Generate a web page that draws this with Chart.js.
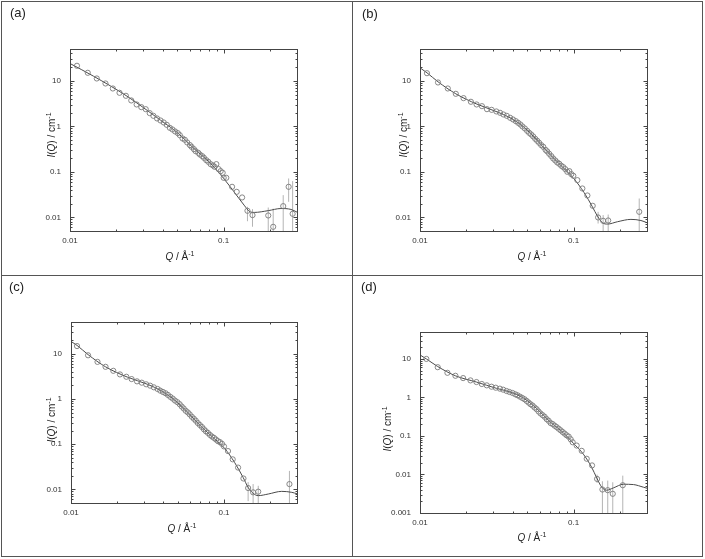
<!DOCTYPE html>
<html>
<head>
<meta charset="utf-8">
<script src="https://cdn.jsdelivr.net/npm/chart.js@4.4.1/dist/chart.umd.min.js"></script>
<style>
  html,body{margin:0;padding:0;background:#fff;}
  #wrap{position:relative;width:705px;height:559px;background:#fff;overflow:hidden;font-family:"Liberation Sans",Arial,sans-serif;}
  canvas{position:absolute;}
  .ln{position:absolute;background:#555;}
  .plab{position:absolute;font-size:13px;color:#222;line-height:13px;transform:translateY(-50%);}
  .xt,.yt{position:absolute;font-size:10px;color:#222;white-space:nowrap;line-height:10px;}
  .xt{transform:translate(-50%,-50%);}
  .yt{transform:translate(-50%,-50%) rotate(-90deg);}
  .sp{font-size:7px;position:relative;top:-4px;}
</style>
</head>
<body>
<div id="wrap">
  <canvas id="ca" width="352" height="275" style="left:0;top:0"></canvas>
  <canvas id="cb" width="353" height="275" style="left:352px;top:0"></canvas>
  <canvas id="cc" width="352" height="284" style="left:0;top:275px"></canvas>
  <canvas id="cd" width="353" height="284" style="left:352px;top:275px"></canvas>

  <div class="ln" style="left:1px;top:1px;width:702px;height:1px"></div>
  <div class="ln" style="left:1px;top:556px;width:702px;height:1px"></div>
  <div class="ln" style="left:1px;top:1px;width:1px;height:556px"></div>
  <div class="ln" style="left:702px;top:1px;width:1px;height:556px"></div>
  <div class="ln" style="left:352px;top:1px;width:1px;height:556px"></div>
  <div class="ln" style="left:1px;top:275px;width:702px;height:1px"></div>

  <div class="plab" style="left:10px;top:12px">(a)</div>
  <div class="plab" style="left:362px;top:13px">(b)</div>
  <div class="plab" style="left:9px;top:286px">(c)</div>
  <div class="plab" style="left:361px;top:286px">(d)</div>

  <div class="xt" style="left:180px;top:257px"><i>Q</i> / Å<span class="sp">-1</span></div>
  <div class="xt" style="left:532px;top:257px"><i>Q</i> / Å<span class="sp">-1</span></div>
  <div class="xt" style="left:182px;top:529px"><i>Q</i> / Å<span class="sp">-1</span></div>
  <div class="xt" style="left:532px;top:538px"><i>Q</i> / Å<span class="sp">-1</span></div>

  <div class="yt" style="left:52px;top:135px"><i>I</i>(<i>Q</i>) / cm<span class="sp">-1</span></div>
  <div class="yt" style="left:404px;top:135px"><i>I</i>(<i>Q</i>) / cm<span class="sp">-1</span></div>
  <div class="yt" style="left:52px;top:420px"><i>I</i>(<i>Q</i>) / cm<span class="sp">-1</span></div>
  <div class="yt" style="left:388px;top:429px"><i>I</i>(<i>Q</i>) / cm<span class="sp">-1</span></div>
</div>
<script>
// ---------- tick labels ----------
const xTickMajor = [0.01, 0.1];
const xTickMinor = [0.02,0.03,0.04,0.05,0.06,0.07,0.08,0.09,0.2,0.3];
const yTickMajorABC = [0.01, 0.1, 1, 10];
const yTickMinorABC = [0.005,0.006,0.007,0.008,0.009,0.02,0.03,0.04,0.05,0.06,0.07,0.08,0.09,0.2,0.3,0.4,0.5,0.6,0.7,0.8,0.9,2,3,4,5,6,7,8,9,20,30,40,50];
const yTickMajorD = [0.001, 0.01, 0.1, 1, 10];
const yTickMinorD = [0.002,0.003,0.004,0.005,0.006,0.007,0.008,0.009,0.02,0.03,0.04,0.05,0.06,0.07,0.08,0.09,0.2,0.3,0.4,0.5,0.6,0.7,0.8,0.9,2,3,4,5,6,7,8,9,20,30,40,50];

// ---------- panel (a) ----------
const qA = [0.0111,0.01305,0.01494,0.01702,0.0190,0.0210,0.0231,0.02504,0.02714,0.0291,0.0311,0.0330,0.03487,0.03685,0.0388,0.0407,0.0426,0.0446,0.0464,0.0483,0.0503,0.0518,0.0540,0.0559,0.0579,0.0603,0.0618,0.0640,0.0656,0.0683,0.0700,0.0725,0.0744,0.0770,0.0794,0.0822,0.0852,0.0873,0.0896,0.0927,0.0956,0.0985,0.1000,0.104,0.1134,0.1216,0.1318,0.1428,0.154,0.195,0.210,0.244,0.2647,0.281];
const iA = [21.4,15.0,11.25,8.74,6.78,5.45,4.68,3.70,3.02,2.64,2.38,1.95,1.70,1.487,1.343,1.214,1.079,0.927,0.852,0.770,0.708,0.639,0.540,0.505,0.441,0.386,0.354,0.315,0.285,0.2616,0.240,0.221,0.203,0.1805,0.166,0.1474,0.1378,0.1288,0.1474,0.1145,0.1034,0.0951,0.0738,0.0738,0.0468,0.0363,0.0273,0.0139,0.01117,0.01097,0.00618,0.0176,0.0468,0.01194];
const errQA = [0.1428,0.154,0.195,0.210,0.244,0.2647,0.281];
const errLoA = [0.0082,0.0062,0.004,0.004,0.004,0.0219,0.004];
const errHiA = [0.0170,0.0151,0.0164,0.0155,0.0307,0.0714,0.0624];
const fitQA = [0.01,0.01421,0.02347,0.0388,0.0498,0.0640,0.0822,0.1,0.1168,0.1358,0.1487,0.158,0.195,0.2358,0.274,0.3];
const fitIA = [24.0,12.66,4.60,1.366,0.732,0.326,0.1524,0.0714,0.0363,0.0185,0.01317,0.0128,0.0140,0.0156,0.0149,0.0130];

// ---------- panel (b) ----------
const qB = [0.0111,0.0131,0.01517,0.0171,0.0192,0.02144,0.02335,0.0253,0.02727,0.02925,0.0314,0.0332,0.0349,0.0367,0.0386,0.0403,0.0420,0.0435,0.0450,0.0464,0.0481,0.0498,0.0513,0.0529,0.0545,0.0562,0.0579,0.0596,0.0615,0.0634,0.0656,0.0673,0.0693,0.0715,0.0736,0.0759,0.0782,0.0806,0.0831,0.0856,0.0882,0.0909,0.0937,0.0965,0.0995,0.1057,0.1139,0.1228,0.133,0.1442,0.1555,0.1677,0.267];
const iB = [14.7,9.19,6.78,5.18,4.16,3.46,3.02,2.77,2.38,2.30,2.12,1.98,1.82,1.70,1.538,1.413,1.299,1.194,1.097,0.992,0.896,0.796,0.720,0.661,0.598,0.531,0.480,0.434,0.386,0.354,0.304,0.280,0.2487,0.221,0.196,0.1775,0.1604,0.150,0.1355,0.1266,0.1145,0.100,0.1034,0.0889,0.0817,0.0656,0.0430,0.0302,0.0179,0.00992,0.00838,0.00852,0.0132];
const errQB = [0.1442,0.1555,0.1677,0.267];
const errLoB = [0.0073,0.004,0.004,0.004];
const errHiB = [0.0132,0.0112,0.0115,0.0259];
const fitQB = [0.01,0.0111,0.0131,0.0171,0.02347,0.0317,0.0386,0.0474,0.0579,0.0707,0.0865,0.1,0.1168,0.1324,0.1428,0.154,0.166,0.193,0.2358,0.274,0.3];
const fitIB = [19.3,15.0,9.51,5.18,3.07,2.08,1.538,0.959,0.488,0.2325,0.1184,0.0714,0.0351,0.0170,0.0106,0.0076,0.0071,0.0080,0.0090,0.0085,0.0076];

// ---------- panel (c) ----------
const qC = [0.01095,0.01293,0.0149,0.01682,0.0189,0.0209,0.0230,0.0249,0.0270,0.0290,0.0310,0.0329,0.0348,0.0368,0.0383,0.0399,0.0415,0.0430,0.0446,0.0462,0.0478,0.0496,0.0513,0.0529,0.0545,0.0562,0.0580,0.0597,0.0616,0.0635,0.0654,0.0674,0.0695,0.0717,0.0739,0.0761,0.0785,0.0809,0.0834,0.0860,0.0886,0.0913,0.0941,0.0970,0.1,0.1062,0.114,0.1236,0.134,0.1438,0.155,0.1674,0.2677];
const iC = [14.7,9.19,6.57,5.11,4.17,3.47,3.08,2.74,2.44,2.28,2.10,1.96,1.80,1.656,1.522,1.423,1.331,1.223,1.106,1.017,0.919,0.845,0.764,0.679,0.614,0.546,0.502,0.454,0.403,0.365,0.330,0.293,0.265,0.2396,0.213,0.1926,0.177,0.160,0.1472,0.1376,0.1265,0.1163,0.1106,0.1017,0.0889,0.0703,0.0461,0.0303,0.0174,0.0107,0.0086,0.0089,0.01309];
const errQC = [0.1438,0.155,0.1674,0.2677];
const errLoC = [0.0055,0.004,0.004,0.004];
const errHiC = [0.0145,0.0131,0.0120,0.0256];
const fitQC = [0.01,0.01095,0.01293,0.01682,0.02335,0.0316,0.0387,0.0474,0.0580,0.0710,0.0868,0.101,0.1175,0.1334,0.1438,0.155,0.1674,0.1948,0.2383,0.2773,0.3];
const fitIC = [18.6,15.2,9.51,5.11,3.03,2.10,1.522,0.951,0.502,0.2437,0.1308,0.0804,0.0390,0.0183,0.01106,0.00817,0.00727,0.0079,0.00904,0.0086,0.0080];

// ---------- panel (d) ----------
const qD = [0.0110,0.01304,0.01508,0.0170,0.01908,0.0213,0.0233,0.02525,0.0272,0.0292,0.0311,0.0331,0.0348,0.0366,0.0382,0.0400,0.0417,0.0431,0.0447,0.0463,0.0479,0.0494,0.0509,0.0524,0.0540,0.0557,0.0574,0.0591,0.0609,0.0628,0.0647,0.0667,0.0687,0.0708,0.0730,0.0752,0.0774,0.0798,0.0823,0.0848,0.0874,0.0900,0.0928,0.0956,0.0985,0.1046,0.1128,0.1216,0.1317,0.1420,0.1538,0.1666,0.1796,0.2087];
const iD = [10.0,6.10,4.36,3.65,3.18,2.77,2.51,2.23,2.06,1.90,1.79,1.69,1.59,1.47,1.386,1.306,1.206,1.137,1.05,0.971,0.897,0.813,0.736,0.667,0.616,0.547,0.496,0.432,0.383,0.347,0.315,0.274,0.248,0.216,0.204,0.1845,0.1705,0.1545,0.140,0.1268,0.1148,0.104,0.0961,0.0821,0.0687,0.0564,0.0411,0.0256,0.0172,0.00766,0.00407,0.00391,0.00315,0.00526];
const errQD = [0.1420,0.1538,0.1666,0.1796,0.2087];
const errLoD = [0.0060,0.0008,0.0008,0.0008,0.0008];
const errHiD = [0.0099,0.00667,0.00694,0.00628,0.00933];
const fitQD = [0.01,0.011,0.01304,0.0170,0.0233,0.0315,0.0385,0.0470,0.0574,0.0701,0.0856,0.0995,0.1156,0.131,0.1413,0.1523,0.164,0.1814,0.2109,0.245,0.2846,0.3];
const fitID = [12.7,10.0,6.35,3.65,2.51,1.72,1.386,0.971,0.516,0.234,0.1218,0.0648,0.0337,0.0153,0.00813,0.00467,0.00391,0.00449,0.00558,0.00547,0.00467,0.0044];

// ---------- drawing ----------
const FONT = '"Liberation Sans", Arial, sans-serif';

const framePlugin = {
  id: 'frameTicks',
  afterDatasetsDraw(chart) {
    const {ctx, chartArea, scales} = chart;
    const {left, right, top, bottom} = chartArea;
    const t = chart.options.plugins.frameTicks;
    ctx.save();
    ctx.strokeStyle = '#444';
    ctx.lineWidth = 1;
    const L = Math.round(left) + 0.5, R = Math.round(right) + 0.5;
    const T = Math.round(top) + 0.5, B = Math.round(bottom) + 0.5;
    ctx.strokeRect(L, T, R - L, B - T);
    ctx.beginPath();
    const drawX = (vals, len) => vals.forEach(v => {
      if (v <= scales.x.min || v >= scales.x.max) return;
      const p = Math.round(scales.x.getPixelForValue(v)) + 0.5;
      ctx.moveTo(p, B); ctx.lineTo(p, B - len);
      ctx.moveTo(p, T); ctx.lineTo(p, T + len);
    });
    const drawY = (vals, len) => vals.forEach(v => {
      if (v <= scales.y.min || v >= scales.y.max) return;
      const p = Math.round(scales.y.getPixelForValue(v)) + 0.5;
      ctx.moveTo(L, p); ctx.lineTo(L + len, p);
      ctx.moveTo(R, p); ctx.lineTo(R - len, p);
    });
    drawX(t.xMajor, 4); drawX(t.xMinor, 2);
    drawY(t.yMajor, 4); drawY(t.yMinor, 2);
    ctx.stroke();
    ctx.restore();
  }
};

function pts(xs, ys) { return xs.map((v, k) => ({x: v, y: ys[k]})); }
function errPts(xs, lo, hi) {
  const out = [];
  xs.forEach((v, k) => { out.push({x: v, y: lo[k]}, {x: v, y: hi[k]}, {x: v, y: null}); });
  return out;
}

function makePanel(id, p) {
  new Chart(document.getElementById(id), {
    type: 'line',
    data: {
      datasets: [
        { type: 'scatter', data: pts(p.q, p.i), showLine: false, pointRadius: 2.6, pointStyle: 'circle',
          pointBorderColor: '#7a7a7a', pointBackgroundColor: 'rgba(255,255,255,0)', pointBorderWidth: 0.9, order: 0 },
        { data: pts(p.fq, p.fi), borderColor: '#4a4a4a', borderWidth: 1, pointRadius: 0,
          cubicInterpolationMode: 'monotone', fill: false, order: 1 },
        { data: errPts(p.eq, p.elo, p.ehi), borderColor: '#b4b4b4', borderWidth: 1, pointRadius: 0,
          spanGaps: false, fill: false, order: 2 }
      ]
    },
    options: {
      responsive: false, animation: false, devicePixelRatio: 1,
      layout: { padding: p.pad },
      plugins: {
        legend: { display: false }, tooltip: { enabled: false },
        frameTicks: { xMajor: xTickMajor, xMinor: xTickMinor, yMajor: p.yMajor, yMinor: p.yMinor }
      },
      scales: {
        x: {
          type: 'logarithmic', min: 0.01, max: 0.3,
          grid: { display: false, drawTicks: false }, border: { display: false },
          ticks: { autoSkip: false, maxRotation: 0, padding: 5, color: '#333',
                   font: { family: FONT, size: 8 }, callback: v => String(v) },
          afterBuildTicks: s => { s.ticks = xTickMajor.map(v => ({value: v})); },
          afterFit: s => { s.height = 20; }
        },
        y: {
          type: 'logarithmic', min: p.yMin, max: 50,
          grid: { display: false, drawTicks: false }, border: { display: false },
          ticks: { autoSkip: false, padding: 9, color: '#333',
                   font: { family: FONT, size: 8 }, callback: v => String(v) },
          afterBuildTicks: s => { s.ticks = p.yMajor.map(v => ({value: v})); },
          afterFit: s => { s.width = 35; }
        }
      }
    },
    plugins: [framePlugin]
  });
}

makePanel('ca', { q: qA, i: iA, eq: errQA, elo: errLoA, ehi: errHiA, fq: fitQA, fi: fitIA,
  yMin: 0.005, yMajor: yTickMajorABC, yMinor: yTickMinorABC, pad: {left: 35, right: 55, top: 49, bottom: 24} });
makePanel('cb', { q: qB, i: iB, eq: errQB, elo: errLoB, ehi: errHiB, fq: fitQB, fi: fitIB,
  yMin: 0.005, yMajor: yTickMajorABC, yMinor: yTickMinorABC, pad: {left: 33, right: 58, top: 49, bottom: 24} });
makePanel('cc', { q: qC, i: iC, eq: errQC, elo: errLoC, ehi: errHiC, fq: fitQC, fi: fitIC,
  yMin: 0.005, yMajor: yTickMajorABC, yMinor: yTickMinorABC, pad: {left: 36, right: 55, top: 47, bottom: 36} });
makePanel('cd', { q: qD, i: iD, eq: errQD, elo: errLoD, ehi: errHiD, fq: fitQD, fi: fitID,
  yMin: 0.001, yMajor: yTickMajorD, yMinor: yTickMinorD, pad: {left: 33, right: 58, top: 57, bottom: 26} });
</script>
</body>
</html>
